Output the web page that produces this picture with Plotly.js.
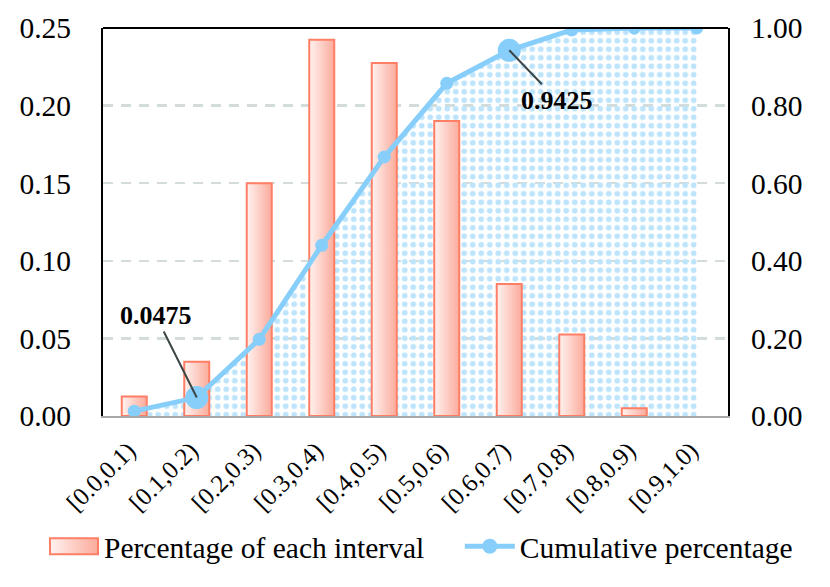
<!DOCTYPE html>
<html>
<head>
<meta charset="utf-8">
<script src="https://cdn.plot.ly/plotly-3.0.1.min.js"></script>
<style>
  html, body { margin: 0; padding: 0; background: #fff; }
  #chart { width: 830px; height: 587px; }
</style>
</head>
<body>
<div id="chart"></div>
<script>
// Data
const categories = [
  "[0.0,0.1)", "[0.1,0.2)", "[0.2,0.3)", "[0.3,0.4)", "[0.4,0.5)",
  "[0.5,0.6)", "[0.6,0.7)", "[0.7,0.8)", "[0.8,0.9)", "[0.9,1.0)",
];
const intervalShare = [0.0125, 0.035, 0.15, 0.2425, 0.2275, 0.19, 0.085, 0.0525, 0.005, 0];
const cumulativeShare = [0.0125, 0.0475, 0.1975, 0.44, 0.6675, 0.8575, 0.9425, 0.995, 1.0, 1.0];
const highlighted = [1, 6]; // points with a callout

const FONT = "Liberation Serif, Times New Roman, serif";
const BLUE = "#87cefa";
const CORAL = "#ff7f66";

const markerSizes = cumulativeShare.map((_, i) => (highlighted.includes(i) ? 23 : 13));
// a zero-height bar should not leave a stroke on the axis
const barLineWidths = intervalShare.map((v) => (v > 0 ? 2 : 0));

const traces = [
  // dotted area under the cumulative curve (bottom layer)
  {
    x: categories,
    y: cumulativeShare,
    yaxis: "y",
    type: "scatter",
    mode: "none",
    fill: "tozeroy",
    fillcolor: "rgba(255,255,255,0)",
    fillpattern: { shape: ".", fgcolor: "#bde4fb", bgcolor: "rgba(255,255,255,0)", size: 8.5, solidity: 0.36 },
    showlegend: false,
    hoverinfo: "skip",
  },
  {
    x: categories,
    y: intervalShare,
    yaxis: "y2",
    type: "bar",
    name: "Percentage of each interval",
    legend: "legend",
    marker: { color: "#fcc4b8", line: { color: CORAL, width: barLineWidths } },
  },
  {
    x: categories,
    y: cumulativeShare,
    yaxis: "y3",
    type: "scatter",
    mode: "lines+markers",
    name: "Cumulative percentage",
    legend: "legend2",
    line: { color: BLUE, width: 5 },
    marker: { color: BLUE, size: markerSizes, opacity: 1, line: { width: 0 } },
  },
];

function callout(i, ax, ay) {
  return {
    x: categories[i],
    y: cumulativeShare[i],
    xref: "x",
    yref: "y3",
    text: `<b>${cumulativeShare[i].toFixed(4)}</b>`,
    font: { family: FONT, size: 26, color: "#000" },
    showarrow: true,
    arrowhead: 0,
    arrowwidth: 2,
    arrowcolor: "#3d4646",
    standoff: 0,
    ax: ax,
    ay: ay,
  };
}

function legendAt(x) {
  return {
    xref: "container",
    yref: "container",
    x: x,
    xanchor: "left",
    y: 0.069,
    yanchor: "middle",
    font: { family: FONT, size: 29.5 },
    itemwidth: 50,
    bgcolor: "rgba(255,255,255,0)",
  };
}

const layout = {
  width: 830,
  height: 587,
  margin: { l: 103, r: 102, t: 28, b: 171, autoexpand: false },
  paper_bgcolor: "#fff",
  plot_bgcolor: "#fff",
  font: { family: FONT, size: 29.5, color: "#000" },
  bargap: 0.6,
  xaxis: {
    type: "category",
    automargin: false,
    range: [-0.5, categories.length - 0.5],
    tickangle: -45,
    tickfont: { family: FONT, size: 25 },
    showline: true,
    linecolor: "#a8a8a8",
    linewidth: 2,
    ticks: "",
    showgrid: false,
    ticklabelstandoff: 8,
    ticklabelshift: -6,
  },
  yaxis: {
    side: "right",
    automargin: false,
    range: [0, 1],
    dtick: 0.2,
    tickformat: ".2f",
    tickfont: { family: FONT, size: 29.5 },
    showgrid: false,
    zeroline: false,
    showline: true,
    linecolor: "#000",
    linewidth: 2,
    ticks: "",
    ticklabelstandoff: 15,
  },
  yaxis2: {
    overlaying: "y",
    side: "left",
    automargin: false,
    range: [0, 0.25],
    dtick: 0.05,
    tickformat: ".2f",
    tickfont: { family: FONT, size: 29.5 },
    showgrid: true,
    gridcolor: "#d3dcda",
    gridwidth: 2.5,
    griddash: "10px,8px",
    zeroline: false,
    showline: true,
    linecolor: "#000",
    linewidth: 2,
    ticks: "",
    ticklabelstandoff: 24,
  },
  yaxis3: {
    overlaying: "y",
    side: "right",
    range: [0, 1],
    visible: false,
  },
  shapes: [
    { type: "line", xref: "paper", yref: "paper", x0: 0, x1: 1, y0: 1, y1: 1, line: { color: "#000", width: 2 } },
  ],
  annotations: [callout(1, -41, -82), callout(6, 48, 50)],
  showlegend: true,
  legend: legendAt(0.053),
  legend2: legendAt(0.554),
};

// Horizontal white-to-coral gradient on the bars, as in the reference
function applyBarGradient(gd) {
  const ns = "http://www.w3.org/2000/svg";
  const svg = gd.querySelector(".main-svg");
  const defs = svg.querySelector("defs");
  if (!svg.querySelector("#barGrad")) {
    const grad = document.createElementNS(ns, "linearGradient");
    grad.setAttribute("id", "barGrad");
    grad.setAttribute("x1", "0"); grad.setAttribute("x2", "1");
    grad.setAttribute("y1", "0"); grad.setAttribute("y2", "0");
    [["0%", "#fff2f0"], ["100%", "#fbab9b"]].forEach(([off, col]) => {
      const s = document.createElementNS(ns, "stop");
      s.setAttribute("offset", off);
      s.setAttribute("stop-color", col);
      grad.appendChild(s);
    });
    defs.appendChild(grad);
  }
  gd.querySelectorAll(".barlayer .point path").forEach((p) => { p.style.fill = "url(#barGrad)"; });

  // wider legend symbols, closer to the reference
  gd.querySelectorAll(".legendpoints path").forEach((p) => {
    const d = p.getAttribute("d") || "";
    if (d.includes("V") && d.includes("H")) {
      p.setAttribute("d", "M-24,8H24V-8H-24Z");
      p.style.fill = "url(#barGrad)";
    } else if (d.startsWith("M5,0")) {
      p.setAttribute("d", "M-6,0h50");
    }
  });
}

Plotly.newPlot("chart", traces, layout, { displayModeBar: false, staticPlot: true })
  .then((gd) => applyBarGradient(gd));
</script>
</body>
</html>
